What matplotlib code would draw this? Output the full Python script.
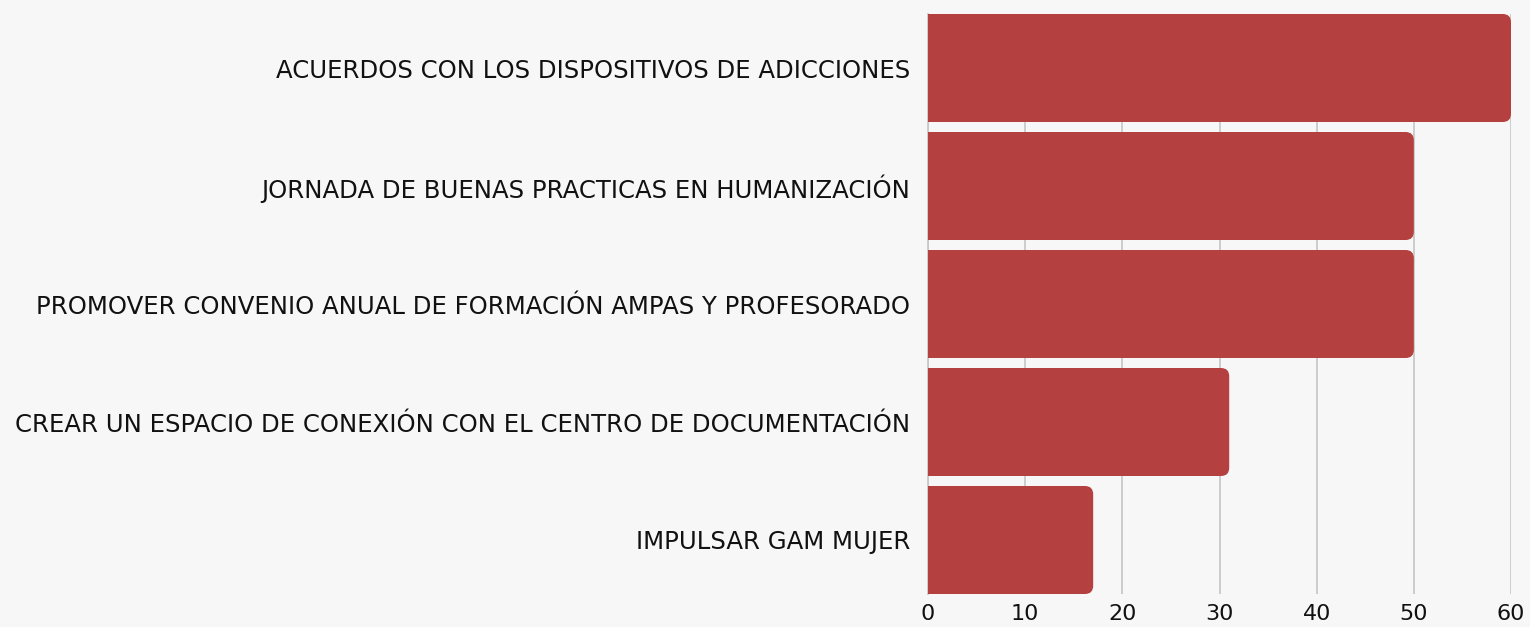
import numpy as np
import matplotlib.pyplot as plt
from matplotlib.patches import FancyBboxPatch, Rectangle

# Data
categories = [
    'ACUERDOS CON LOS DISPOSITIVOS DE ADICCIONES',
    'JORNADA DE BUENAS PRACTICAS EN HUMANIZACIÓN',
    'PROMOVER CONVENIO ANUAL DE FORMACIÓN AMPAS Y PROFESORADO',
    'CREAR UN ESPACIO DE CONEXIÓN CON EL CENTRO DE DOCUMENTACIÓN',
    'IMPULSAR GAM MUJER',
]
values = [60, 50, 50, 31, 17]
x_ticks = [0, 10, 20, 30, 40, 50, 60]

bg = '#f7f7f7'
bar_color = '#b54040'
grid_color = '#c9c9c9'

fig = plt.figure(figsize=(15.3, 6.27), dpi=100, facecolor=bg)
ax = fig.add_axes([928 / 1530, 1 - 594 / 627, 583 / 1530, 580 / 627])
ax.set_facecolor(bg)

h = 108 / 118
y = np.arange(len(categories))
bars = ax.barh(y, values, height=h, color=bar_color, zorder=3)

# rounded right corners: swap each bar for a rounded box + square left part
r = 0.85
aspect = (1 / 118) / (1 / 9.72)
for b in bars:
    x0, y0 = b.get_x(), b.get_y()
    w, hh = b.get_width(), b.get_height()
    b.set_visible(False)
    ax.add_patch(FancyBboxPatch((x0, y0), w, hh,
                                boxstyle=f'round,pad=0,rounding_size={r}',
                                mutation_aspect=aspect,
                                facecolor=bar_color, edgecolor='none', zorder=3))
    ax.add_patch(Rectangle((x0, y0), w / 2, hh, facecolor=bar_color,
                           edgecolor='none', zorder=3))

ax.set_xlim(0, 60)
ax.set_ylim(len(categories) - 1 + h / 2, -h / 2)
ax.set_xticks(x_ticks)
ax.set_yticks(y)
ax.set_yticklabels(categories)

ax.grid(axis='x', color=grid_color, linewidth=1.3, zorder=0)
for s in ['top', 'right', 'bottom']:
    ax.spines[s].set_visible(False)
ax.spines['left'].set_color(grid_color)
ax.spines['left'].set_linewidth(1.3)

ax.tick_params(axis='y', length=0, pad=13, labelsize=17.6, labelcolor='#111111')
ax.tick_params(axis='x', length=0, pad=7, labelsize=16, labelcolor='#111111')

fig.savefig('out.png', dpi=100, facecolor=bg)
